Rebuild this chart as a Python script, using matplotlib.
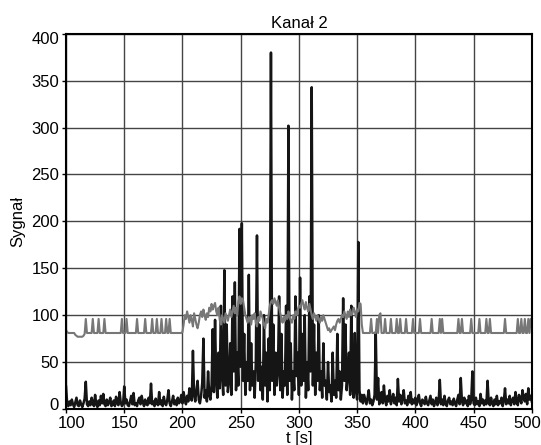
import numpy as np
from matplotlib import pyplot as plt
from matplotlib.transforms import ScaledTranslation

plt.rcParams['font.family'] = ['Liberation Sans', 'DejaVu Sans']

# czas [s], probkowanie co 1 s
t = np.arange(100, 501)

# kanal 2 - sygnal czarny
sygnal_czarny = [
	24, 6, 3, 8, 4, 10, 5, 2, 7, 12, 4, 3, 9, 5, 2, 6, 11, 29, 5, 3,
	8, 4, 12, 6, 3, 15, 5, 2, 9, 4, 14, 6, 16, 5, 3, 10, 4, 7, 12, 3,
	5, 9, 3, 13, 6, 4, 18, 7, 3, 5, 24, 6, 10, 4, 3, 8, 14, 5, 17, 4,
	6, 3, 9, 12, 5, 14, 7, 3, 10, 5, 4, 12, 6, 27, 5, 8, 3, 11, 6, 4,
	18, 5, 9, 3, 13, 6, 4, 10, 20, 6, 3, 8, 14, 5, 9, 4, 12, 6, 8, 15,
	6, 18, 10, 5, 14, 8, 22, 12, 9, 62, 15, 8, 20, 30, 10, 6, 14, 28, 75, 12,
	20, 8, 40, 15, 10, 25, 85, 18, 95, 30, 12, 60, 22, 110, 35, 15, 148, 25, 90, 18,
	30, 70, 15, 120, 40, 135, 20, 60, 25, 192, 45, 198, 30, 80, 15, 50, 30, 143, 20, 70,
	25, 40, 12, 50, 185, 30, 90, 20, 45, 10, 100, 25, 60, 8, 75, 20, 380, 30, 90, 15,
	60, 25, 40, 120, 20, 80, 12, 40, 25, 110, 15, 302, 30, 70, 10, 40, 20, 120, 35, 60,
	15, 140, 25, 80, 30, 100, 12, 50, 20, 120, 40, 343, 25, 90, 15, 60, 30, 100, 20, 40,
	12, 70, 25, 30, 10, 50, 18, 25, 8, 60, 15, 30, 12, 80, 20, 40, 10, 25, 118, 30,
	90, 20, 35, 60, 15, 110, 25, 12, 81, 20, 10, 178, 20, 8, 15, 6, 15, 10, 5, 12,
	20, 6, 10, 4, 8, 15, 82, 10, 33, 5, 12, 18, 6, 25, 9, 4, 14, 8, 20, 5,
	10, 16, 6, 12, 4, 32, 8, 15, 5, 11, 20, 6, 9, 4, 14, 7, 18, 5, 10, 6,
	12, 4, 9, 15, 6, 3, 10, 8, 5, 13, 6, 4, 9, 14, 5, 10, 3, 7, 12, 4,
	8, 31, 5, 10, 4, 14, 6, 3, 9, 12, 5, 8, 4, 11, 6, 3, 10, 15, 5, 33,
	8, 4, 12, 6, 9, 3, 14, 5, 10, 40, 6, 4, 12, 5, 8, 3, 16, 6, 10, 4,
	9, 5, 30, 7, 4, 12, 6, 3, 10, 5, 14, 4, 8, 6, 12, 3, 9, 22, 5, 10,
	6, 14, 4, 9, 12, 5, 18, 8, 4, 15, 10, 6, 20, 12, 8, 16, 5, 22, 10, 14,
	8,
]

# kanal 2 - sygnal szary
sygnal_szary = [
	84, 82, 81, 81, 81, 81, 81, 81, 79, 78, 77, 77, 77, 77, 77, 78, 80, 96, 81, 81,
	81, 81, 81, 96, 81, 81, 81, 81, 96, 81, 81, 81, 81, 96, 81, 81, 81, 81, 81, 81,
	81, 81, 81, 81, 81, 81, 81, 81, 96, 81, 81, 81, 96, 81, 81, 81, 81, 81, 81, 81,
	81, 96, 81, 81, 81, 81, 81, 81, 96, 81, 81, 81, 81, 81, 96, 81, 81, 81, 96, 81,
	81, 81, 96, 81, 81, 81, 96, 81, 81, 96, 81, 81, 81, 81, 81, 81, 81, 81, 81, 81,
	82, 90, 100, 96, 104, 98, 92, 100, 95, 88, 102, 96, 90, 86, 92, 100, 104, 98, 106, 100,
	95, 102, 98, 108, 104, 112, 106, 110, 113, 104, 100, 108, 95, 90, 100, 96, 92, 102, 98, 94,
	100, 106, 98, 104, 110, 102, 108, 100, 114, 120, 112, 118, 116, 108, 100, 96, 92, 98, 94, 90,
	100, 96, 102, 92, 88, 98, 94, 104, 100, 96, 90, 86, 96, 92, 100, 110, 114, 116, 112, 118,
	114, 110, 116, 108, 102, 96, 92, 98, 94, 100, 96, 104, 98, 94, 92, 100, 96, 104, 100, 106,
	110, 108, 112, 116, 110, 106, 114, 108, 104, 112, 106, 100, 96, 102, 98, 94, 100, 96, 92, 98,
	94, 100, 96, 92, 88, 84, 86, 82, 84, 86, 88, 84, 90, 94, 96, 92, 96, 100, 98, 104,
	100, 96, 104, 98, 106, 100, 102, 108, 104, 98, 106, 104, 113, 112, 90, 81, 81, 81, 81, 81,
	81, 81, 96, 81, 81, 81, 81, 96, 81, 100, 102, 81, 81, 81, 96, 81, 81, 81, 81, 96,
	81, 81, 81, 81, 96, 81, 81, 96, 81, 81, 81, 81, 96, 81, 81, 81, 81, 81, 96, 81,
	81, 81, 81, 81, 96, 81, 81, 81, 81, 81, 81, 81, 81, 81, 96, 81, 81, 81, 81, 81,
	81, 96, 81, 96, 81, 81, 81, 81, 81, 81, 81, 81, 81, 81, 81, 81, 81, 96, 81, 81,
	96, 81, 81, 81, 81, 81, 81, 81, 96, 81, 81, 81, 81, 81, 81, 96, 81, 81, 81, 81,
	81, 96, 81, 81, 96, 81, 81, 81, 81, 81, 81, 81, 81, 81, 81, 81, 81, 96, 81, 81,
	81, 81, 81, 81, 81, 81, 81, 81, 96, 81, 81, 96, 81, 81, 96, 81, 81, 96, 81, 96,
	96,
]

xticks = [100, 150, 200, 250, 300, 350, 400, 450, 500]
yticks = [0, 50, 100, 150, 200, 250, 300, 350, 400]

fig = plt.figure(figsize=(5.41, 4.45), dpi=100)
ax = fig.add_axes([0.122, 0.081, 0.861, 0.843])

ax.plot(t, sygnal_czarny, color='#151515', lw=1.8)
ax.plot(t, sygnal_szary, color='#777777', lw=1.5)

ax.set_xlim(100, 500)
ax.set_ylim(0, 400)
ax.set_xticks(xticks)
ax.set_yticks(yticks)
ax.grid(True, color='#444444', lw=1.0)
ax.tick_params(labelsize=12, length=3, width=1, pad=2)
for s in ax.spines.values():
	s.set_linewidth(1.5)

# skrajne etykiety przesuniete do srodka, jak w oryginale
px = 1 / 100
xl = ax.get_xticklabels()
xl[0].set_transform(xl[0].get_transform() + ScaledTranslation(6 * px, 0, fig.dpi_scale_trans))
xl[-1].set_transform(xl[-1].get_transform() + ScaledTranslation(-5 * px, 0, fig.dpi_scale_trans))
yl = ax.get_yticklabels()
yl[0].set_transform(yl[0].get_transform() + ScaledTranslation(0, 5 * px, fig.dpi_scale_trans))
yl[-1].set_transform(yl[-1].get_transform() + ScaledTranslation(0, -4 * px, fig.dpi_scale_trans))

ax.set_title("Kanał 2", fontsize=12, pad=4)
ax.set_xlabel("t [s]", fontsize=12, labelpad=0)
ax.set_ylabel("Sygnał", fontsize=12, labelpad=4)

fig.savefig("out.png", dpi=100)
